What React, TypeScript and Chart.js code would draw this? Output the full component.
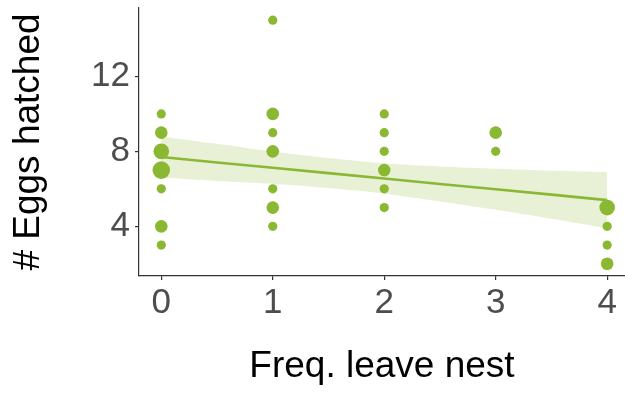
import React, { useEffect, useRef } from "react";
import { Chart, registerables } from "chart.js";

Chart.register(...registerables);

// x axis: frequency the bird leaves its nest
const xTickValues = [0, 1, 2, 3, 4];
const yTickValues = [4, 8, 12];

// observed points (x, y, number of overlapping observations)
const pointX = [0, 0, 0, 0, 0, 0, 0, 1, 1, 1, 1, 1, 1, 1, 2, 2, 2, 2, 2, 2, 3, 3, 4, 4, 4, 4];
const pointY = [10, 9, 8, 7, 6, 4, 3, 15, 10, 9, 8, 6, 5, 4, 10, 9, 8, 7, 6, 5, 9, 8, 5, 4, 3, 2];
const pointCount = [1, 2, 3, 4, 1, 2, 1, 1, 2, 1, 2, 1, 2, 1, 1, 1, 1, 2, 1, 1, 2, 1, 3, 1, 1, 2];

// linear fit with confidence band
const fitX = [0, 0.5, 1, 1.5, 2, 2.5, 3, 3.5, 4];
const fitY = [7.7, 7.41, 7.13, 6.84, 6.55, 6.26, 5.98, 5.69, 5.4];
const fitUpper = [8.8, 8.4, 7.99, 7.64, 7.36, 7.19, 7.07, 6.97, 6.9];
const fitLower = [6.6, 6.42, 6.27, 6.04, 5.74, 5.33, 4.89, 4.41, 3.9];

const GREEN = "rgb(138,184,50)";
const BAND = "rgba(138,184,50,0.2)";
const radiusBySize = [0, 4.6, 6.3, 7.8, 8.8];

export default function App() {
  const ref = useRef<HTMLCanvasElement | null>(null);

  useEffect(() => {
    document.body.style.margin = "0";
    const canvas = ref.current;
    if (!canvas) return;
    const pts = pointX.map((x, i) => ({ x, y: pointY[i] }));
    const chart = new Chart(canvas, {
      type: "scatter",
      data: {
        datasets: [
          {
            label: "obs",
            data: pts,
            backgroundColor: GREEN,
            borderWidth: 0,
            pointRadius: pointCount.map((c) => radiusBySize[c]),
            pointHoverRadius: pointCount.map((c) => radiusBySize[c]),
          },
          {
            label: "fit",
            data: fitX.map((x, i) => ({ x, y: fitY[i] })),
            showLine: true,
            borderColor: GREEN,
            borderWidth: 2.6,
            pointRadius: 0,
            fill: false,
          },
          {
            label: "upper",
            data: fitX.map((x, i) => ({ x, y: fitUpper[i] })),
            showLine: true,
            borderWidth: 0,
            borderColor: "rgba(0,0,0,0)",
            backgroundColor: BAND,
            pointRadius: 0,
            fill: "+1",
            tension: 0.3,
          },
          {
            label: "lower",
            data: fitX.map((x, i) => ({ x, y: fitLower[i] })),
            showLine: true,
            borderWidth: 0,
            borderColor: "rgba(0,0,0,0)",
            pointRadius: 0,
            fill: false,
            tension: 0.3,
          },
        ],
      },
      options: {
        responsive: false,
        animation: false,
        events: [],
        layout: { autoPadding: false, padding: { top: 8, right: 0, bottom: 0, left: 0 } },
        plugins: { legend: { display: false }, tooltip: { enabled: false } },
        scales: {
          x: {
            type: "linear",
            min: -0.2,
            max: 4.16,
            afterBuildTicks: (s: any) => {
              s.ticks = xTickValues.map((v) => ({ value: v }));
            },
            afterFit: (s: any) => {
              s.height = 117;
              s.paddingLeft = 0;
              s.paddingRight = 0;
            },
            grid: {
              display: true,
              drawOnChartArea: false,
              drawTicks: true,
              tickLength: 4,
              color: "#333333",
              lineWidth: 1.2,
            },
            border: { display: true, color: "#333333", width: 1.2 },
            ticks: {
              padding: 2,
              color: "#4D4D4D",
              font: { family: "'Liberation Sans', Arial, sans-serif", size: 35 },
              maxRotation: 0,
              callback: (v: any) => String(v),
            },
            title: {
              display: true,
              text: "Freq. leave nest",
              color: "#000000",
              font: { family: "'Liberation Sans', Arial, sans-serif", size: 37, lineHeight: 1.2 },
              padding: { top: 0, bottom: 4 },
            },
          },
          y: {
            type: "linear",
            min: 1.35,
            max: 15.65,
            afterBuildTicks: (s: any) => {
              s.ticks = yTickValues.map((v) => ({ value: v }));
            },
            afterFit: (s: any) => {
              s.width = 139;
              s.paddingTop = 0;
              s.paddingBottom = 0;
            },
            grid: {
              display: true,
              drawOnChartArea: false,
              drawTicks: true,
              tickLength: 4,
              color: "#333333",
              lineWidth: 1.2,
            },
            border: { display: true, color: "#333333", width: 1.2 },
            ticks: {
              padding: 5,
              color: "#4D4D4D",
              font: { family: "'Liberation Sans', Arial, sans-serif", size: 35 },
              callback: (v: any) => String(v),
            },
            title: {
              display: true,
              text: "# Eggs hatched",
              color: "#000000",
              font: { family: "'Liberation Sans', Arial, sans-serif", size: 37, lineHeight: 1.2 },
              padding: { top: 7, bottom: 0 },
            },
          },
        },
      },
    });
    return () => chart.destroy();
  }, []);

  return (
    <div style={{ width: 625, height: 393 }}>
      <canvas ref={ref} width={625} height={393} style={{ display: "block" }} />
    </div>
  );
}
